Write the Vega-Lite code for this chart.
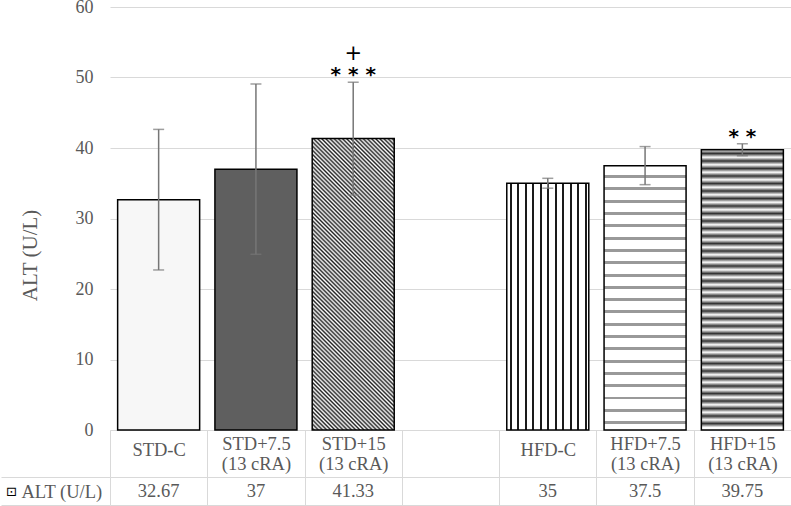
{
  "$schema": "https://vega.github.io/schema/vega-lite/v6.json",
  "autosize": {"type": "pad"},
  "padding": {"left": 0, "top": -2, "right": 0, "bottom": 0},
  "background": "white",
  "config": {"view": {"stroke": null}, "font": "Liberation Serif"},
  "spacing": -10,
  "data": {
    "values": [
      {"group": "STD-C", "ALT": 32.67, "lo": 22.7, "hi": 42.64, "sig": "", "plus": "", "series": "ALT (U/L)"},
      {"group": "STD+7.5 (13 cRA)", "ALT": 37, "lo": 24.92, "hi": 49.08, "sig": "", "plus": "", "series": "ALT (U/L)"},
      {"group": "STD+15 (13 cRA)", "ALT": 41.33, "lo": 33.33, "hi": 49.33, "sig": "* * *", "plus": "+", "series": "ALT (U/L)"},
      {"group": "HFD-C", "ALT": 35, "lo": 34.3, "hi": 35.7, "sig": "", "plus": "", "series": "ALT (U/L)"},
      {"group": "HFD+7.5 (13 cRA)", "ALT": 37.5, "lo": 34.8, "hi": 40.2, "sig": "", "plus": "", "series": "ALT (U/L)"},
      {"group": "HFD+15 (13 cRA)", "ALT": 39.75, "lo": 38.9, "hi": 40.6, "sig": "* *", "plus": "", "series": "ALT (U/L)"}
    ]
  },
  "vconcat": [
    {
      "width": 681,
      "height": 423,
      "encoding": {
        "x": {
          "field": "group",
          "type": "nominal",
          "scale": {"domain": ["STD-C", "STD+7.5 (13 cRA)", "STD+15 (13 cRA)", "", "HFD-C", "HFD+7.5 (13 cRA)", "HFD+15 (13 cRA)"], "paddingInner": 0, "paddingOuter": 0},
          "axis": {"title": null, "grid": false, "domain": true, "domainColor": "#d9d9d9", "ticks": false, "labels": false}
        }
      },
      "layer": [
        {
          "transform": [{"filter": "datum.group === 'STD-C'"}],
          "mark": {"type": "bar", "fill": "#f7f7f7", "stroke": "#000", "strokeWidth": 1.5, "width": {"band": 0.843}},
          "encoding": {
            "y": {
              "field": "ALT", "type": "quantitative", "title": "ALT (U/L)",
              "scale": {"domain": [0, 60], "nice": false},
              "axis": {
                "titleX": -80, "titleY": 248, "titleAngle": -90, "titleAlign": "center", "titleBaseline": "middle",
                "titleFont": "Liberation Serif", "titleFontSize": 21, "titleFontWeight": "normal", "titleColor": "#595959",
                "grid": true, "gridColor": "#d9d9d9", "domain": false, "ticks": false, "tickSize": 0,
                "labelPadding": 17, "labelFont": "Liberation Serif", "labelFontSize": 18, "labelColor": "#595959",
                "values": [0, 10, 20, 30, 40, 50, 60]
              }
            }
          }
        },
        {
          "transform": [{"filter": "datum.group === 'STD+7.5 (13 cRA)'"}],
          "mark": {"type": "bar", "fill": "#5f5f5f", "stroke": "#000", "strokeWidth": 1.5, "width": {"band": 0.843}},
          "encoding": {"y": {"field": "ALT", "type": "quantitative", "title": "ALT (U/L)"}}
        },
        {
          "transform": [{"filter": "datum.group === 'STD+15 (13 cRA)'"}],
          "mark": {"type": "bar", "stroke": "#000", "strokeWidth": 1.5, "width": {"band": 0.843},
            "fill": {"gradient": "linear", "x1": 0, "y1": 1, "x2": 0.3713, "y2": -0.3195, "stops": [
              {"offset": 0, "color": "#fff"}, {"offset": 0.005, "color": "#222"}, {"offset": 0.01, "color": "#fff"}, {"offset": 0.015, "color": "#222"},
              {"offset": 0.02, "color": "#fff"}, {"offset": 0.025, "color": "#222"}, {"offset": 0.03, "color": "#fff"}, {"offset": 0.035, "color": "#222"},
              {"offset": 0.04, "color": "#fff"}, {"offset": 0.045, "color": "#222"}, {"offset": 0.05, "color": "#fff"}, {"offset": 0.055, "color": "#222"},
              {"offset": 0.06, "color": "#fff"}, {"offset": 0.065, "color": "#222"}, {"offset": 0.07, "color": "#fff"}, {"offset": 0.075, "color": "#222"},
              {"offset": 0.08, "color": "#fff"}, {"offset": 0.085, "color": "#222"}, {"offset": 0.09, "color": "#fff"}, {"offset": 0.095, "color": "#222"},
              {"offset": 0.1, "color": "#fff"}, {"offset": 0.105, "color": "#222"}, {"offset": 0.11, "color": "#fff"}, {"offset": 0.115, "color": "#222"},
              {"offset": 0.12, "color": "#fff"}, {"offset": 0.125, "color": "#222"}, {"offset": 0.13, "color": "#fff"}, {"offset": 0.135, "color": "#222"},
              {"offset": 0.14, "color": "#fff"}, {"offset": 0.145, "color": "#222"}, {"offset": 0.15, "color": "#fff"}, {"offset": 0.155, "color": "#222"},
              {"offset": 0.16, "color": "#fff"}, {"offset": 0.165, "color": "#222"}, {"offset": 0.17, "color": "#fff"}, {"offset": 0.175, "color": "#222"},
              {"offset": 0.18, "color": "#fff"}, {"offset": 0.185, "color": "#222"}, {"offset": 0.19, "color": "#fff"}, {"offset": 0.195, "color": "#222"},
              {"offset": 0.2, "color": "#fff"}, {"offset": 0.205, "color": "#222"}, {"offset": 0.21, "color": "#fff"}, {"offset": 0.215, "color": "#222"},
              {"offset": 0.22, "color": "#fff"}, {"offset": 0.225, "color": "#222"}, {"offset": 0.23, "color": "#fff"}, {"offset": 0.235, "color": "#222"},
              {"offset": 0.24, "color": "#fff"}, {"offset": 0.245, "color": "#222"}, {"offset": 0.25, "color": "#fff"}, {"offset": 0.255, "color": "#222"},
              {"offset": 0.26, "color": "#fff"}, {"offset": 0.265, "color": "#222"}, {"offset": 0.27, "color": "#fff"}, {"offset": 0.275, "color": "#222"},
              {"offset": 0.28, "color": "#fff"}, {"offset": 0.285, "color": "#222"}, {"offset": 0.29, "color": "#fff"}, {"offset": 0.295, "color": "#222"},
              {"offset": 0.3, "color": "#fff"}, {"offset": 0.305, "color": "#222"}, {"offset": 0.31, "color": "#fff"}, {"offset": 0.315, "color": "#222"},
              {"offset": 0.32, "color": "#fff"}, {"offset": 0.325, "color": "#222"}, {"offset": 0.33, "color": "#fff"}, {"offset": 0.335, "color": "#222"},
              {"offset": 0.34, "color": "#fff"}, {"offset": 0.345, "color": "#222"}, {"offset": 0.35, "color": "#fff"}, {"offset": 0.355, "color": "#222"},
              {"offset": 0.36, "color": "#fff"}, {"offset": 0.365, "color": "#222"}, {"offset": 0.37, "color": "#fff"}, {"offset": 0.375, "color": "#222"},
              {"offset": 0.38, "color": "#fff"}, {"offset": 0.385, "color": "#222"}, {"offset": 0.39, "color": "#fff"}, {"offset": 0.395, "color": "#222"},
              {"offset": 0.4, "color": "#fff"}, {"offset": 0.405, "color": "#222"}, {"offset": 0.41, "color": "#fff"}, {"offset": 0.415, "color": "#222"},
              {"offset": 0.42, "color": "#fff"}, {"offset": 0.425, "color": "#222"}, {"offset": 0.43, "color": "#fff"}, {"offset": 0.435, "color": "#222"},
              {"offset": 0.44, "color": "#fff"}, {"offset": 0.445, "color": "#222"}, {"offset": 0.45, "color": "#fff"}, {"offset": 0.455, "color": "#222"},
              {"offset": 0.46, "color": "#fff"}, {"offset": 0.465, "color": "#222"}, {"offset": 0.47, "color": "#fff"}, {"offset": 0.475, "color": "#222"},
              {"offset": 0.48, "color": "#fff"}, {"offset": 0.485, "color": "#222"}, {"offset": 0.49, "color": "#fff"}, {"offset": 0.495, "color": "#222"},
              {"offset": 0.5, "color": "#fff"}, {"offset": 0.505, "color": "#222"}, {"offset": 0.51, "color": "#fff"}, {"offset": 0.515, "color": "#222"},
              {"offset": 0.52, "color": "#fff"}, {"offset": 0.525, "color": "#222"}, {"offset": 0.53, "color": "#fff"}, {"offset": 0.535, "color": "#222"},
              {"offset": 0.54, "color": "#fff"}, {"offset": 0.545, "color": "#222"}, {"offset": 0.55, "color": "#fff"}, {"offset": 0.555, "color": "#222"},
              {"offset": 0.56, "color": "#fff"}, {"offset": 0.565, "color": "#222"}, {"offset": 0.57, "color": "#fff"}, {"offset": 0.575, "color": "#222"},
              {"offset": 0.58, "color": "#fff"}, {"offset": 0.585, "color": "#222"}, {"offset": 0.59, "color": "#fff"}, {"offset": 0.595, "color": "#222"},
              {"offset": 0.6, "color": "#fff"}, {"offset": 0.605, "color": "#222"}, {"offset": 0.61, "color": "#fff"}, {"offset": 0.615, "color": "#222"},
              {"offset": 0.62, "color": "#fff"}, {"offset": 0.625, "color": "#222"}, {"offset": 0.63, "color": "#fff"}, {"offset": 0.635, "color": "#222"},
              {"offset": 0.64, "color": "#fff"}, {"offset": 0.645, "color": "#222"}, {"offset": 0.65, "color": "#fff"}, {"offset": 0.655, "color": "#222"},
              {"offset": 0.66, "color": "#fff"}, {"offset": 0.665, "color": "#222"}, {"offset": 0.67, "color": "#fff"}, {"offset": 0.675, "color": "#222"},
              {"offset": 0.68, "color": "#fff"}, {"offset": 0.685, "color": "#222"}, {"offset": 0.69, "color": "#fff"}, {"offset": 0.695, "color": "#222"},
              {"offset": 0.7, "color": "#fff"}, {"offset": 0.705, "color": "#222"}, {"offset": 0.71, "color": "#fff"}, {"offset": 0.715, "color": "#222"},
              {"offset": 0.72, "color": "#fff"}, {"offset": 0.725, "color": "#222"}, {"offset": 0.73, "color": "#fff"}, {"offset": 0.735, "color": "#222"},
              {"offset": 0.74, "color": "#fff"}, {"offset": 0.745, "color": "#222"}, {"offset": 0.75, "color": "#fff"}, {"offset": 0.755, "color": "#222"},
              {"offset": 0.76, "color": "#fff"}, {"offset": 0.765, "color": "#222"}, {"offset": 0.77, "color": "#fff"}, {"offset": 0.775, "color": "#222"},
              {"offset": 0.78, "color": "#fff"}, {"offset": 0.785, "color": "#222"}, {"offset": 0.79, "color": "#fff"}, {"offset": 0.795, "color": "#222"},
              {"offset": 0.8, "color": "#fff"}, {"offset": 0.805, "color": "#222"}, {"offset": 0.81, "color": "#fff"}, {"offset": 0.815, "color": "#222"},
              {"offset": 0.82, "color": "#fff"}, {"offset": 0.825, "color": "#222"}, {"offset": 0.83, "color": "#fff"}, {"offset": 0.835, "color": "#222"},
              {"offset": 0.84, "color": "#fff"}, {"offset": 0.845, "color": "#222"}, {"offset": 0.85, "color": "#fff"}, {"offset": 0.855, "color": "#222"},
              {"offset": 0.86, "color": "#fff"}, {"offset": 0.865, "color": "#222"}, {"offset": 0.87, "color": "#fff"}, {"offset": 0.875, "color": "#222"},
              {"offset": 0.88, "color": "#fff"}, {"offset": 0.885, "color": "#222"}, {"offset": 0.89, "color": "#fff"}, {"offset": 0.895, "color": "#222"},
              {"offset": 0.9, "color": "#fff"}
            ]}
          },
          "encoding": {"y": {"field": "ALT", "type": "quantitative", "title": "ALT (U/L)"}}
        },
        {
          "transform": [{"filter": "datum.group === 'HFD-C'"}],
          "mark": {"type": "bar", "stroke": "#000", "strokeWidth": 1.5, "width": {"band": 0.843},
            "fill": {"gradient": "linear", "x1": 0, "y1": 0, "x2": 1, "y2": 0, "stops": [
              {"offset": 0.0366, "color": "#fff"}, {"offset": 0.0366, "color": "#1a1a1a"}, {"offset": 0.061, "color": "#1a1a1a"}, {"offset": 0.061, "color": "#fff"},
              {"offset": 0.128, "color": "#fff"}, {"offset": 0.128, "color": "#1a1a1a"}, {"offset": 0.1524, "color": "#1a1a1a"}, {"offset": 0.1524, "color": "#fff"},
              {"offset": 0.2195, "color": "#fff"}, {"offset": 0.2195, "color": "#1a1a1a"}, {"offset": 0.2439, "color": "#1a1a1a"}, {"offset": 0.2439, "color": "#fff"},
              {"offset": 0.311, "color": "#fff"}, {"offset": 0.311, "color": "#1a1a1a"}, {"offset": 0.3354, "color": "#1a1a1a"}, {"offset": 0.3354, "color": "#fff"},
              {"offset": 0.4024, "color": "#fff"}, {"offset": 0.4024, "color": "#1a1a1a"}, {"offset": 0.4268, "color": "#1a1a1a"}, {"offset": 0.4268, "color": "#fff"},
              {"offset": 0.4939, "color": "#fff"}, {"offset": 0.4939, "color": "#1a1a1a"}, {"offset": 0.5183, "color": "#1a1a1a"}, {"offset": 0.5183, "color": "#fff"},
              {"offset": 0.5854, "color": "#fff"}, {"offset": 0.5854, "color": "#1a1a1a"}, {"offset": 0.6098, "color": "#1a1a1a"}, {"offset": 0.6098, "color": "#fff"},
              {"offset": 0.6768, "color": "#fff"}, {"offset": 0.6768, "color": "#1a1a1a"}, {"offset": 0.7012, "color": "#1a1a1a"}, {"offset": 0.7012, "color": "#fff"},
              {"offset": 0.7683, "color": "#fff"}, {"offset": 0.7683, "color": "#1a1a1a"}, {"offset": 0.7927, "color": "#1a1a1a"}, {"offset": 0.7927, "color": "#fff"},
              {"offset": 0.8598, "color": "#fff"}, {"offset": 0.8598, "color": "#1a1a1a"}, {"offset": 0.8841, "color": "#1a1a1a"}, {"offset": 0.8841, "color": "#fff"},
              {"offset": 0.9512, "color": "#fff"}, {"offset": 0.9512, "color": "#1a1a1a"}, {"offset": 0.9756, "color": "#1a1a1a"}, {"offset": 0.9756, "color": "#fff"}
            ]}
          },
          "encoding": {"y": {"field": "ALT", "type": "quantitative", "title": "ALT (U/L)"}}
        },
        {
          "transform": [{"filter": "datum.group === 'HFD+7.5 (13 cRA)'"}],
          "mark": {"type": "bar", "stroke": "#000", "strokeWidth": 1.5, "width": {"band": 0.843},
            "fill": {"gradient": "linear", "x1": 0, "y1": 0, "x2": 0, "y2": 1, "stops": [
              {"offset": 0.0359, "color": "#fff"}, {"offset": 0.0359, "color": "#999"}, {"offset": 0.0473, "color": "#999"}, {"offset": 0.0473, "color": "#fff"},
              {"offset": 0.0825, "color": "#fff"}, {"offset": 0.0825, "color": "#999"}, {"offset": 0.0938, "color": "#999"}, {"offset": 0.0938, "color": "#fff"},
              {"offset": 0.129, "color": "#fff"}, {"offset": 0.129, "color": "#999"}, {"offset": 0.1403, "color": "#999"}, {"offset": 0.1403, "color": "#fff"},
              {"offset": 0.1755, "color": "#fff"}, {"offset": 0.1755, "color": "#999"}, {"offset": 0.1868, "color": "#999"}, {"offset": 0.1868, "color": "#fff"},
              {"offset": 0.222, "color": "#fff"}, {"offset": 0.222, "color": "#999"}, {"offset": 0.2334, "color": "#999"}, {"offset": 0.2334, "color": "#fff"},
              {"offset": 0.2685, "color": "#fff"}, {"offset": 0.2685, "color": "#999"}, {"offset": 0.2799, "color": "#999"}, {"offset": 0.2799, "color": "#fff"},
              {"offset": 0.3151, "color": "#fff"}, {"offset": 0.3151, "color": "#999"}, {"offset": 0.3264, "color": "#999"}, {"offset": 0.3264, "color": "#fff"},
              {"offset": 0.3616, "color": "#fff"}, {"offset": 0.3616, "color": "#999"}, {"offset": 0.3729, "color": "#999"}, {"offset": 0.3729, "color": "#fff"},
              {"offset": 0.4081, "color": "#fff"}, {"offset": 0.4081, "color": "#999"}, {"offset": 0.4194, "color": "#999"}, {"offset": 0.4194, "color": "#fff"},
              {"offset": 0.4546, "color": "#fff"}, {"offset": 0.4546, "color": "#999"}, {"offset": 0.466, "color": "#999"}, {"offset": 0.466, "color": "#fff"},
              {"offset": 0.5011, "color": "#fff"}, {"offset": 0.5011, "color": "#999"}, {"offset": 0.5125, "color": "#999"}, {"offset": 0.5125, "color": "#fff"},
              {"offset": 0.5477, "color": "#fff"}, {"offset": 0.5477, "color": "#999"}, {"offset": 0.559, "color": "#999"}, {"offset": 0.559, "color": "#fff"},
              {"offset": 0.5942, "color": "#fff"}, {"offset": 0.5942, "color": "#999"}, {"offset": 0.6055, "color": "#999"}, {"offset": 0.6055, "color": "#fff"},
              {"offset": 0.6407, "color": "#fff"}, {"offset": 0.6407, "color": "#999"}, {"offset": 0.652, "color": "#999"}, {"offset": 0.652, "color": "#fff"},
              {"offset": 0.6872, "color": "#fff"}, {"offset": 0.6872, "color": "#999"}, {"offset": 0.6986, "color": "#999"}, {"offset": 0.6986, "color": "#fff"},
              {"offset": 0.7337, "color": "#fff"}, {"offset": 0.7337, "color": "#999"}, {"offset": 0.7451, "color": "#999"}, {"offset": 0.7451, "color": "#fff"},
              {"offset": 0.7803, "color": "#fff"}, {"offset": 0.7803, "color": "#999"}, {"offset": 0.7916, "color": "#999"}, {"offset": 0.7916, "color": "#fff"},
              {"offset": 0.8268, "color": "#fff"}, {"offset": 0.8268, "color": "#999"}, {"offset": 0.8381, "color": "#999"}, {"offset": 0.8381, "color": "#fff"},
              {"offset": 0.8733, "color": "#fff"}, {"offset": 0.8733, "color": "#999"}, {"offset": 0.8846, "color": "#999"}, {"offset": 0.8846, "color": "#fff"},
              {"offset": 0.9198, "color": "#fff"}, {"offset": 0.9198, "color": "#999"}, {"offset": 0.9312, "color": "#999"}, {"offset": 0.9312, "color": "#fff"},
              {"offset": 0.9663, "color": "#fff"}, {"offset": 0.9663, "color": "#999"}, {"offset": 0.9777, "color": "#999"}, {"offset": 0.9777, "color": "#fff"}
            ]}
          },
          "encoding": {"y": {"field": "ALT", "type": "quantitative", "title": "ALT (U/L)"}}
        },
        {
          "transform": [{"filter": "datum.group === 'HFD+15 (13 cRA)'"}],
          "mark": {"type": "bar", "stroke": "#000", "strokeWidth": 1.5, "width": {"band": 0.843},
            "fill": {"gradient": "linear", "x1": 0, "y1": 0, "x2": 0, "y2": 1, "stops": [
              {"offset": 0, "color": "#fff"}, {"offset": 0.01338, "color": "#333"}, {"offset": 0.02677, "color": "#fff"}, {"offset": 0.04015, "color": "#333"},
              {"offset": 0.05353, "color": "#fff"}, {"offset": 0.06692, "color": "#333"}, {"offset": 0.0803, "color": "#fff"}, {"offset": 0.09368, "color": "#333"},
              {"offset": 0.10706, "color": "#fff"}, {"offset": 0.12045, "color": "#333"}, {"offset": 0.13383, "color": "#fff"}, {"offset": 0.14721, "color": "#333"},
              {"offset": 0.1606, "color": "#fff"}, {"offset": 0.17398, "color": "#333"}, {"offset": 0.18736, "color": "#fff"}, {"offset": 0.20075, "color": "#333"},
              {"offset": 0.21413, "color": "#fff"}, {"offset": 0.22751, "color": "#333"}, {"offset": 0.24089, "color": "#fff"}, {"offset": 0.25428, "color": "#333"},
              {"offset": 0.26766, "color": "#fff"}, {"offset": 0.28104, "color": "#333"}, {"offset": 0.29443, "color": "#fff"}, {"offset": 0.30781, "color": "#333"},
              {"offset": 0.32119, "color": "#fff"}, {"offset": 0.33458, "color": "#333"}, {"offset": 0.34796, "color": "#fff"}, {"offset": 0.36134, "color": "#333"},
              {"offset": 0.37472, "color": "#fff"}, {"offset": 0.38811, "color": "#333"}, {"offset": 0.40149, "color": "#fff"}, {"offset": 0.41487, "color": "#333"},
              {"offset": 0.42826, "color": "#fff"}, {"offset": 0.44164, "color": "#333"}, {"offset": 0.45502, "color": "#fff"}, {"offset": 0.46841, "color": "#333"},
              {"offset": 0.48179, "color": "#fff"}, {"offset": 0.49517, "color": "#333"}, {"offset": 0.50855, "color": "#fff"}, {"offset": 0.52194, "color": "#333"},
              {"offset": 0.53532, "color": "#fff"}, {"offset": 0.5487, "color": "#333"}, {"offset": 0.56209, "color": "#fff"}, {"offset": 0.57547, "color": "#333"},
              {"offset": 0.58885, "color": "#fff"}, {"offset": 0.60224, "color": "#333"}, {"offset": 0.61562, "color": "#fff"}, {"offset": 0.629, "color": "#333"},
              {"offset": 0.64238, "color": "#fff"}, {"offset": 0.65577, "color": "#333"}, {"offset": 0.66915, "color": "#fff"}, {"offset": 0.68253, "color": "#333"},
              {"offset": 0.69592, "color": "#fff"}, {"offset": 0.7093, "color": "#333"}, {"offset": 0.72268, "color": "#fff"}, {"offset": 0.73607, "color": "#333"},
              {"offset": 0.74945, "color": "#fff"}, {"offset": 0.76283, "color": "#333"}, {"offset": 0.77621, "color": "#fff"}, {"offset": 0.7896, "color": "#333"},
              {"offset": 0.80298, "color": "#fff"}, {"offset": 0.81636, "color": "#333"}, {"offset": 0.82975, "color": "#fff"}, {"offset": 0.84313, "color": "#333"},
              {"offset": 0.85651, "color": "#fff"}, {"offset": 0.8699, "color": "#333"}, {"offset": 0.88328, "color": "#fff"}, {"offset": 0.89666, "color": "#333"},
              {"offset": 0.91004, "color": "#fff"}, {"offset": 0.92343, "color": "#333"}, {"offset": 0.93681, "color": "#fff"}, {"offset": 0.95019, "color": "#333"},
              {"offset": 0.96358, "color": "#fff"}, {"offset": 0.97696, "color": "#333"}, {"offset": 0.99034, "color": "#fff"}
            ]}
          },
          "encoding": {"y": {"field": "ALT", "type": "quantitative", "title": "ALT (U/L)"}}
        },
        {
          "mark": {"type": "rule", "color": "#767676", "strokeWidth": 1.5},
          "encoding": {"y": {"field": "lo", "type": "quantitative", "title": "ALT (U/L)"}, "y2": {"field": "hi"}}
        },
        {
          "mark": {"type": "tick", "orient": "horizontal", "color": "#767676", "thickness": 1.5, "size": 11},
          "encoding": {"y": {"field": "lo", "type": "quantitative", "title": "ALT (U/L)"}}
        },
        {
          "mark": {"type": "tick", "orient": "horizontal", "color": "#767676", "thickness": 1.5, "size": 11},
          "encoding": {"y": {"field": "hi", "type": "quantitative", "title": "ALT (U/L)"}}
        },
        {
          "mark": {"type": "text", "font": "DejaVu Sans", "fontSize": 20, "fontWeight": "bold", "color": "#000", "baseline": "alphabetic", "dy": -1},
          "encoding": {"y": {"field": "hi", "type": "quantitative", "title": "ALT (U/L)"}, "text": {"field": "sig"}}
        },
        {
          "mark": {"type": "text", "font": "DejaVu Sans", "fontSize": 21, "color": "#000", "baseline": "alphabetic", "dy": -22},
          "encoding": {"y": {"field": "hi", "type": "quantitative", "title": "ALT (U/L)"}, "text": {"field": "plus"}}
        }
      ]
    },
    {
      "width": 681,
      "height": 28,
      "mark": {"type": "text", "font": "Liberation Serif", "fontSize": 18.5, "color": "#595959"},
      "encoding": {
        "x": {
          "field": "group", "type": "nominal",
          "scale": {"domain": ["STD-C", "STD+7.5 (13 cRA)", "STD+15 (13 cRA)", "", "HFD-C", "HFD+7.5 (13 cRA)", "HFD+15 (13 cRA)"], "paddingInner": 0, "paddingOuter": 0},
          "axis": {
            "orient": "top", "title": null, "grid": true, "tickBand": "extent", "gridColor": "#d9d9d9", "domain": false,
            "ticks": true, "tickSize": 47, "tickColor": "#d9d9d9",
            "labelPadding": -13, "labelAngle": 0, "labelOverlap": false, "labelBaseline": "middle",
            "labelFont": "Liberation Serif", "labelFontSize": 18.5, "labelColor": "#595959", "labelLineHeight": 6.83,
            "labelExpr": "indexof(datum.label, ' (') > 0 ? [substring(datum.label, 0, indexof(datum.label, ' (')), '\u2800', '\u2800', substring(datum.label, indexof(datum.label, ' (') + 1)] : ['\u2800', datum.label]"
          }
        },
        "y": {
          "field": "series", "type": "nominal",
          "scale": {"paddingInner": 0, "paddingOuter": 0},
          "axis": {
            "title": "⊡", "titleFont": "DejaVu Sans", "titleFontSize": 13, "titleFontWeight": "normal", "titleColor": "#000",
            "titleAngle": 0, "titleX": -99, "titleY": 14, "titleAlign": "center", "titleBaseline": "middle",
            "grid": true, "tickBand": "extent", "gridColor": "#d9d9d9", "domain": false,
            "ticks": true, "tickSize": 109, "tickColor": "#d9d9d9",
            "labelAlign": "left", "labelPadding": -20,
            "labelFont": "Liberation Serif", "labelFontSize": 18.5, "labelColor": "#595959"
          }
        },
        "text": {"field": "ALT", "type": "nominal"}
      }
    }
  ]
}
